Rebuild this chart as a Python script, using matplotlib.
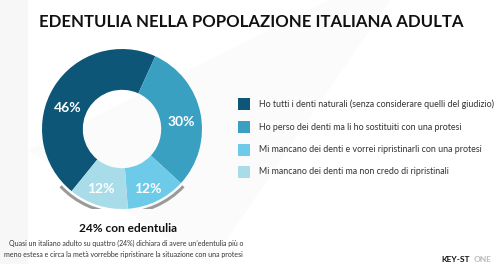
import matplotlib
matplotlib.use("Agg")
import matplotlib.pyplot as plt
from matplotlib.patches import Arc, Rectangle

# ---- data ----
categories = [
    "Ho tutti i denti naturali (senza considerare quelli del giudizio)",
    "Ho perso dei denti ma li ho sostituiti con una protesi",
    "Mi mancano dei denti e vorrei ripristinarli con una protesi",
    "Mi mancano dei denti ma non credo di ripristinali",
]
values = [46, 30, 12, 12]
value_labels = ["46%", "30%", "12%", "12%"]
colors = ["#0d5677", "#3aa0c2", "#6dcbe9", "#a9dce9"]

title = "EDENTULIA NELLA POPOLAZIONE ITALIANA ADULTA"
subtitle = "24% con edentulia"
caption_lines = ["Quasi un italiano adulto su quattro (24%) dichiara di avere un\u2019edentulia più o",
                 "meno estesa e circa la metà vorrebbe ripristinare la situazione con una protesi"]

W, H = 501, 264
fig = plt.figure(figsize=(W / 100, H / 100), dpi=100)
fig.patch.set_facecolor("white")
renderer = fig.canvas.get_renderer()

FONT = ["Lato", "DejaVu Sans"]

def px(x, y):
    return x / W, 1 - y / H

def fit_text(x, y, s, target_w, size, **kw):
    t = fig.text(*px(x, y), s, fontsize=size, family=FONT, **kw)
    w = t.get_window_extent(renderer).width
    t.set_fontsize(size * target_w / w)
    return t

# faint watermark shapes
bg = fig.add_axes([0, 0, 1, 1])
bg.set_xlim(0, W)
bg.set_ylim(H, 0)
bg.axis("off")
bg.fill([0, 28, 28, 0], [0, 0, H, H], color="#f7f7f7", lw=0, zorder=0)
bg.fill([28, 330, 390, 210], [150, 0, 0, H], color="#fbfbfb", lw=0, zorder=0)

# donut
cx, cy, r = 122, 129, 80
ax = fig.add_axes([(cx - r) / W, 1 - (cy + r) / H, 2 * r / W, 2 * r / H])
wedges, _ = ax.pie(values, colors=colors, startangle=231, counterclock=False,
                   radius=1.0, wedgeprops=dict(width=0.51, edgecolor="none"))
# shadow arc under donut
ax.add_patch(Arc((0, 0), 2.1, 2.1, angle=0, theta1=-137, theta2=-43,
                 color="#9a9a9a", lw=2.2, zorder=0))
ax.set_xlim(-1, 1)
ax.set_ylim(-1, 1)
ax.set_aspect("equal")
ax.axis("off")

label_pos = [(68, 108), (181, 122), (101, 189), (148, 189)]
for (lx, ly), t in zip(label_pos, value_labels):
    fig.text(*px(lx, ly), t, ha="center", va="center", color="white",
             fontsize=10, fontweight="bold", family=FONT)

# title
fit_text(251, 22, title, 423, 12.5, ha="center", va="center",
         fontweight="bold", color="#111111")

# legend
ys = [104, 127, 150, 172]
for y, c, lab in zip(ys, colors, categories):
    fig.patches.append(Rectangle(px(238, y + 6), 12 / W, 12 / H,
                                 transform=fig.transFigure, color=c, lw=0))
fit_text(259, ys[0], categories[0], 236, 7, ha="left", va="center", color="#333333")
sz = fig.texts[-1].get_fontsize()
for y, lab in zip(ys[1:], categories[1:]):
    fig.text(*px(259, y), lab, ha="left", va="center", fontsize=sz,
             color="#333333", family=FONT)

# subtitle & caption
fit_text(128, 228, subtitle, 98, 9.5, ha="center", va="center",
         fontweight="bold", color="#111111")
fit_text(126, 243, caption_lines[0], 232, 6.5, ha="center", va="center", color="#333333")
csz = fig.texts[-1].get_fontsize()
fig.text(*px(123, 255), caption_lines[1], ha="center", va="center", fontsize=csz,
         color="#333333", family=FONT)

# logo
fig.text(*px(441, 259), "KEY-ST", ha="left", va="center", fontsize=6,
         fontweight="bold", color="#111111", family=FONT)
fig.text(*px(474, 259), "ONE", ha="left", va="center", fontsize=6,
         fontweight="bold", color="#bbbbbb", family=FONT)

fig.savefig("out.png", dpi=100, facecolor="white")
